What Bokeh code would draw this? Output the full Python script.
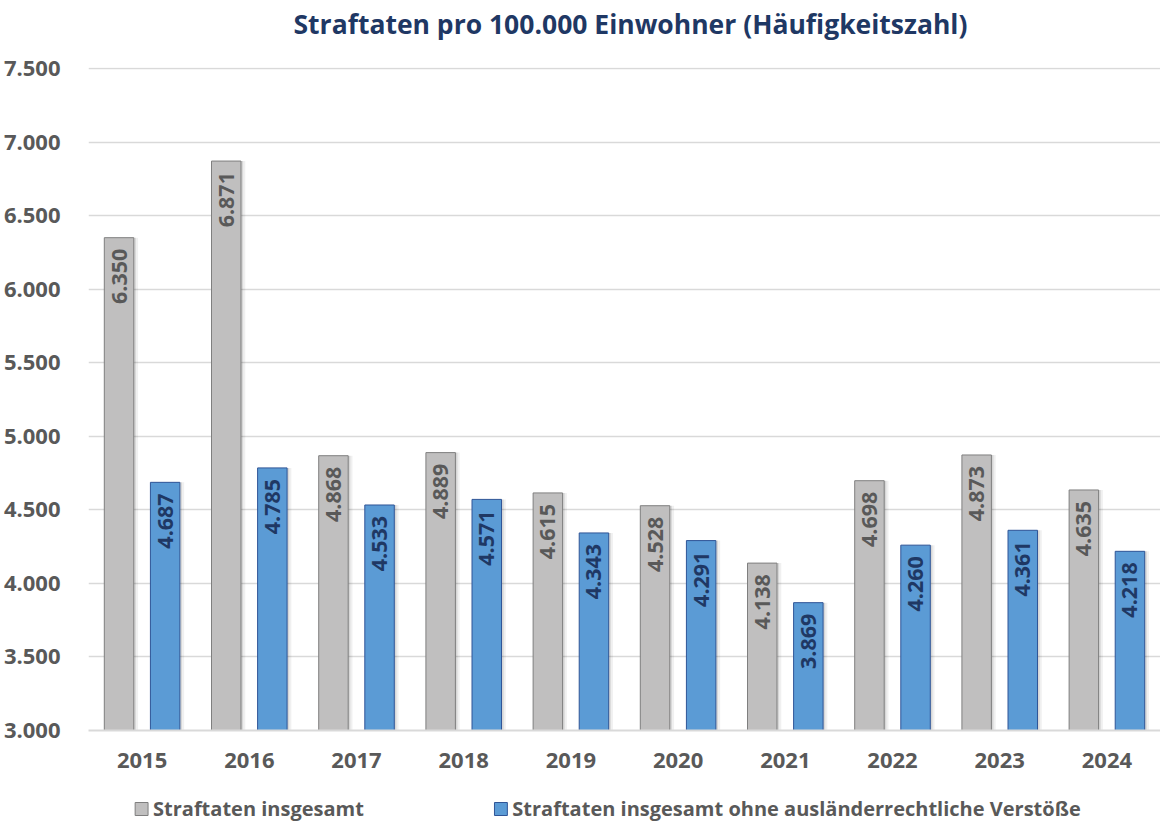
import math
from bokeh.plotting import figure
from bokeh.layouts import column
from bokeh.models import (ColumnDataSource, FactorRange, Range1d, FixedTicker)
from bokeh.transform import dodge
from bokeh.core.properties import value
from bokeh.embed import file_html
from bokeh.resources import INLINE

# ---------------- data ----------------
years = ["2015", "2016", "2017", "2018", "2019", "2020", "2021", "2022", "2023", "2024"]
gesamt = [6350, 6871, 4868, 4889, 4615, 4528, 4138, 4698, 4873, 4635]
ohne = [4687, 4785, 4533, 4571, 4343, 4291, 3869, 4260, 4361, 4218]
y_ticks = [3000, 3500, 4000, 4500, 5000, 5500, 6000, 6500, 7000, 7500]
y_tick_labels = ["3.000", "3.500", "4.000", "4.500", "5.000", "5.500",
                 "6.000", "6.500", "7.000", "7.500"]
series_names = ["Straftaten insgesamt",
                "Straftaten insgesamt ohne ausländerrechtliche Verstöße"]
title_text = "Straftaten pro 100.000 Einwohner (Häufigkeitszahl)"


def fmt(v):
    return f"{v:,}".replace(",", ".")


src = ColumnDataSource(dict(
    year=years, g=gesamt, o=ohne,
    gl=[fmt(v) for v in gesamt], ol=[fmt(v) for v in ohne],
))

FONT = "Open Sans"
GRAY_TXT = "#595959"
NAVY = "#1F3864"
GRAY_FILL, GRAY_LINE = "#C0BFBF", "#7F7F7F"
BLUE_FILL, BLUE_LINE = "#5B9BD5", "#2F5597"
W_PX = 1160
FRAME_L, FRAME_R = 88, 1168   # page x of the aligned plot frames


def strip(height):
    # column() aligns this frame with the main chart frame -> x in page pixels
    f = figure(width=W_PX, height=height, output_backend="svg", toolbar_location=None,
               title=None, x_range=Range1d(FRAME_L, FRAME_R),
               y_range=Range1d(0, height),
               min_border=0, x_axis_location=None, y_axis_location=None)
    f.outline_line_color = None
    f.grid.grid_line_color = None
    return f


# ---------------- title strip ----------------
tt = strip(48)
tt.text(x=[634], y=[25], text=[title_text], text_align="center",
        text_baseline="middle", text_font=value(FONT), text_font_style="bold",
        text_font_size="26.5px", text_color=NAVY)

# ---------------- main chart ----------------
p = figure(x_range=FactorRange(*years), y_range=Range1d(3000, 7507),
           width=W_PX, height=742, output_backend="svg", toolbar_location=None,
           min_border_left=80, min_border_right=0, min_border_top=19,
           min_border_bottom=60)
p.x_range.range_padding = 0
p.outline_line_color = None
p.background_fill_color = "white"
p.border_fill_color = "white"

OFF = 0.215
W = 0.275

# soft shadows
for dx, a in [(0.02, 0.10), (0.04, 0.06)]:
    p.vbar(x=dodge("year", -OFF + dx, range=p.x_range), top="g", bottom=3000, width=W,
           source=src, fill_color="black", fill_alpha=a, line_color=None)
    p.vbar(x=dodge("year", OFF + dx, range=p.x_range), top="o", bottom=3000, width=W,
           source=src, fill_color="black", fill_alpha=a, line_color=None)

p.vbar(x=dodge("year", -OFF, range=p.x_range), top="g", bottom=3000, width=W,
       source=src, fill_color=GRAY_FILL, line_color=GRAY_LINE, line_width=1)
p.vbar(x=dodge("year", OFF, range=p.x_range), top="o", bottom=3000, width=W,
       source=src, fill_color=BLUE_FILL, line_color=BLUE_LINE, line_width=1)

p.text(x=dodge("year", -OFF, range=p.x_range), y="g", text="gl", source=src,
       angle=math.pi / 2, text_align="right", text_baseline="middle", y_offset=11,
       text_font=value(FONT), text_font_style="bold", text_font_size="21.5px",
       text_color=GRAY_TXT)
p.text(x=dodge("year", OFF, range=p.x_range), y="o", text="ol", source=src,
       angle=math.pi / 2, text_align="right", text_baseline="middle", y_offset=11,
       text_font=value(FONT), text_font_style="bold", text_font_size="21.5px",
       text_color=NAVY)

# grid
p.xgrid.grid_line_color = None
p.ygrid.grid_line_color = "#D9D9D9"
p.ygrid.grid_line_width = 1.5

# axes
p.yaxis.ticker = FixedTicker(ticks=y_ticks)
p.yaxis.major_label_overrides = {t: l for t, l in zip(y_ticks, y_tick_labels)}
p.yaxis.axis_line_color = None
p.yaxis.major_tick_line_color = None
p.yaxis.minor_tick_line_color = None
p.yaxis.major_label_standoff = 22
p.yaxis.major_label_text_font = FONT
p.yaxis.major_label_text_font_style = "bold"
p.yaxis.major_label_text_font_size = "22px"
p.yaxis.major_label_text_color = GRAY_TXT

p.xaxis.axis_line_color = "#D9D9D9"
p.xaxis.axis_line_width = 2
p.xaxis.major_tick_line_color = None
p.xaxis.minor_tick_line_color = None
p.xaxis.major_label_standoff = 16
p.xaxis.major_label_text_font = FONT
p.xaxis.major_label_text_font_style = "bold"
p.xaxis.major_label_text_font_size = "22px"
p.xaxis.major_label_text_color = GRAY_TXT

# ---------------- legend strip ----------------
lg = strip(31)
sw_left = [135, 497]
lg.quad(left=sw_left, right=[x + 13 for x in sw_left], bottom=[6, 6], top=[19, 19],
        fill_color=[GRAY_FILL, BLUE_FILL], line_color=[GRAY_LINE, BLUE_LINE],
        line_width=1)
lg.text(x=[x + 18 for x in sw_left], y=[13.5, 13.5], text=series_names,
        text_align="left", text_baseline="middle", text_font=value(FONT),
        text_font_style="bold", text_font_size="20px", text_color=GRAY_TXT)

layout = column(tt, p, lg, spacing=0)
open("out.html", "w").write(file_html(layout, INLINE))
